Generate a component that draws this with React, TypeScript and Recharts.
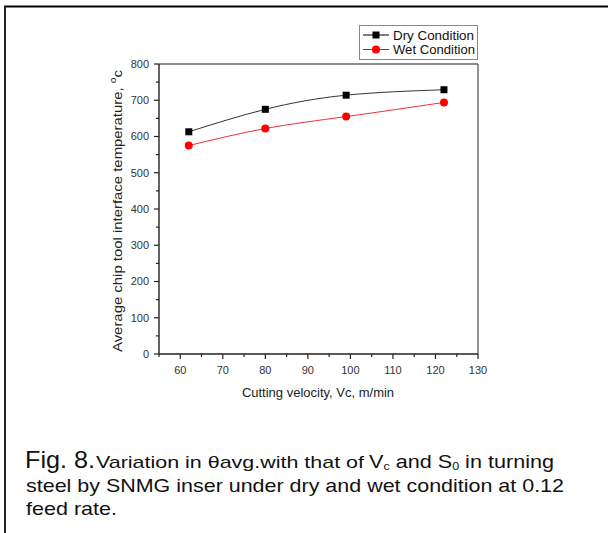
import { Legend, Line, LineChart, ReferenceLine, XAxis, YAxis } from "recharts";

const velocity = [62, 80, 99, 122];
const dryTemp = [613, 675, 714, 729];
const wetTemp = [575, 622, 655, 694];
const xTicks = [55, 60, 65, 70, 75, 80, 85, 90, 95, 100, 105, 110, 115, 120, 125, 130];
const yTicks = [0, 50, 100, 150, 200, 250, 300, 350, 400, 450, 500, 550, 600, 650, 700, 750, 800];

const data = velocity.map((v, i) => ({ v, dry: dryTemp[i], wet: wetTemp[i] }));

const FONT = "'Liberation Sans', Arial, sans-serif";
const TICK = 5;
const MINOR = 3;
const GAP = 4;
const AXIS = "#222";

function XTick({ x, y, payload }: any) {
  const v = payload.value;
  const major = v % 10 === 0;
  const y0 = y - TICK - GAP;
  return (
    <g>
      <line x1={x} x2={x} y1={y0} y2={y0 + (major ? TICK : MINOR)} stroke={AXIS} strokeWidth={1.2} />
      {major && (
        <text x={x} y={y0 + 20} textAnchor="middle" fontSize={11} fill="#333" fontFamily={FONT}>
          {v}
        </text>
      )}
    </g>
  );
}

function YTick({ x, y, payload }: any) {
  const v = payload.value;
  const major = v % 100 === 0;
  const x0 = x + TICK + GAP;
  return (
    <g>
      <line x1={x0 - (major ? TICK : MINOR)} x2={x0} y1={y} y2={y} stroke={AXIS} strokeWidth={1.2} />
      {major && (
        <text x={x0 - 10} y={y} dy="0.35em" textAnchor="end" fontSize={11} fill="#333" fontFamily={FONT}>
          {v}
        </text>
      )}
    </g>
  );
}

function Square({ cx, cy, index }: any) {
  return <rect key={`sq-${index}`} x={cx - 3.5} y={cy - 3.5} width={7} height={7} fill="#000" />;
}

function Dot({ cx, cy, index }: any) {
  return <circle key={`ci-${index}`} cx={cx} cy={cy} r={4} fill="#f00" />;
}

function LegendBox() {
  return (
    <svg width={119} height={35} style={{ display: "block" }}>
      <rect x={0.5} y={0.5} width={118} height={34} fill="#fff" stroke="#888" />
      <line x1={4} x2={30} y1={10} y2={10} stroke="#000" />
      <rect x={13.5} y={6.5} width={7} height={7} fill="#000" />
      <text x={34} y={14.5} fontSize={12} fontFamily={FONT} fill="#111" textLength={81} lengthAdjust="spacingAndGlyphs">
        Dry Condition
      </text>
      <line x1={4} x2={30} y1={24.5} y2={24.5} stroke="#f00" />
      <circle cx={17} cy={24.5} r={4} fill="#f00" />
      <text x={34} y={29} fontSize={12} fontFamily={FONT} fill="#111" textLength={82} lengthAdjust="spacingAndGlyphs">
        Wet Condition
      </text>
    </svg>
  );
}

function YLabel() {
  return (
    <text
      transform="translate(121.5, 211) rotate(-90)"
      textAnchor="middle"
      fontSize={13}
      fontFamily={FONT}
      fill="#222"
      textLength={282}
      lengthAdjust="spacingAndGlyphs"
    >
      Average chip tool interface temperature,{" "}
      <tspan fontSize={9} dy={-6}>o</tspan>
      <tspan dy={6}>c</tspan>
    </text>
  );
}

function XLabel() {
  return (
    <text x={318} y={397} textAnchor="middle" fontSize={13} fontFamily={FONT} fill="#222">
      Cutting velocity, Vc, m/min
    </text>
  );
}

export default function App() {
  return (
    <div style={{ position: "absolute", left: 0, top: 0, width: 608, height: 533, background: "#fff" }}>
      <LineChart width={608} height={533} data={data} margin={{ top: 64, right: 130, bottom: 149, left: 99 }}>
        <XAxis
          dataKey="v"
          type="number"
          domain={[55, 130]}
          ticks={xTicks}
          interval={0}
          height={30}
          tickSize={TICK}
          tickMargin={GAP}
          tickLine={false}
          tick={<XTick />}
          axisLine={{ stroke: AXIS, strokeWidth: 1.4 }}
          label={{ content: () => <XLabel /> }}
        />
        <YAxis
          type="number"
          domain={[0, 800]}
          ticks={yTicks}
          interval={0}
          width={60}
          tickSize={TICK}
          tickMargin={GAP}
          tickLine={false}
          tick={<YTick />}
          axisLine={{ stroke: AXIS, strokeWidth: 1.4 }}
          label={{ content: () => <YLabel /> }}
        />
        <ReferenceLine y={800} stroke="#666" strokeWidth={1.4} />
        <ReferenceLine x={130} stroke="#666" strokeWidth={1.4} />
        <Legend
          layout="horizontal"
          verticalAlign="middle"
          align="center"
          content={() => <LegendBox />}
          wrapperStyle={{ position: "absolute", left: 359, top: 25, width: 119, height: 35 }}
        />
        <Line
          type="natural"
          dataKey="dry"
          name="Dry Condition"
          stroke="#333"
          strokeWidth={1}
          dot={(p: any) => <Square {...p} />}
          activeDot={false}
          isAnimationActive={false}
        />
        <Line
          type="natural"
          dataKey="wet"
          name="Wet Condition"
          stroke="#e33"
          strokeWidth={1}
          dot={(p: any) => <Dot {...p} />}
          activeDot={false}
          isAnimationActive={false}
        />
      </LineChart>
      <svg width={608} height={533} style={{ position: "absolute", left: 0, top: 0, pointerEvents: "none" }}>
        <line x1={4} x2={608} y1={6.5} y2={6.5} stroke="#000" strokeWidth={2} />
        <line x1={5} x2={5} y1={6} y2={533} stroke="#222" strokeWidth={2} />
        <g fontFamily={FONT} fill="#111">
          <text x={25} y={468} fontSize={24} textLength={70} lengthAdjust="spacingAndGlyphs">
            Fig. 8.
          </text>
          <text x={96} y={468} fontSize={17} textLength={268} lengthAdjust="spacingAndGlyphs">
            Variation in θavg.with that of
          </text>
          <text x={369} y={468} fontSize={19} textLength={185} lengthAdjust="spacingAndGlyphs">
            V<tspan fontSize={11} dy={2}>c</tspan>
            <tspan dy={-2}> and S</tspan>
            <tspan fontSize={11} dy={2}>0</tspan>
            <tspan dy={-2}> in turning</tspan>
          </text>
          <text x={26} y={492} fontSize={19} textLength={538} lengthAdjust="spacingAndGlyphs">
            steel by SNMG inser under dry and wet condition at 0.12
          </text>
          <text x={26} y={515} fontSize={19} textLength={91} lengthAdjust="spacingAndGlyphs">
            feed rate.
          </text>
        </g>
      </svg>
    </div>
  );
}
